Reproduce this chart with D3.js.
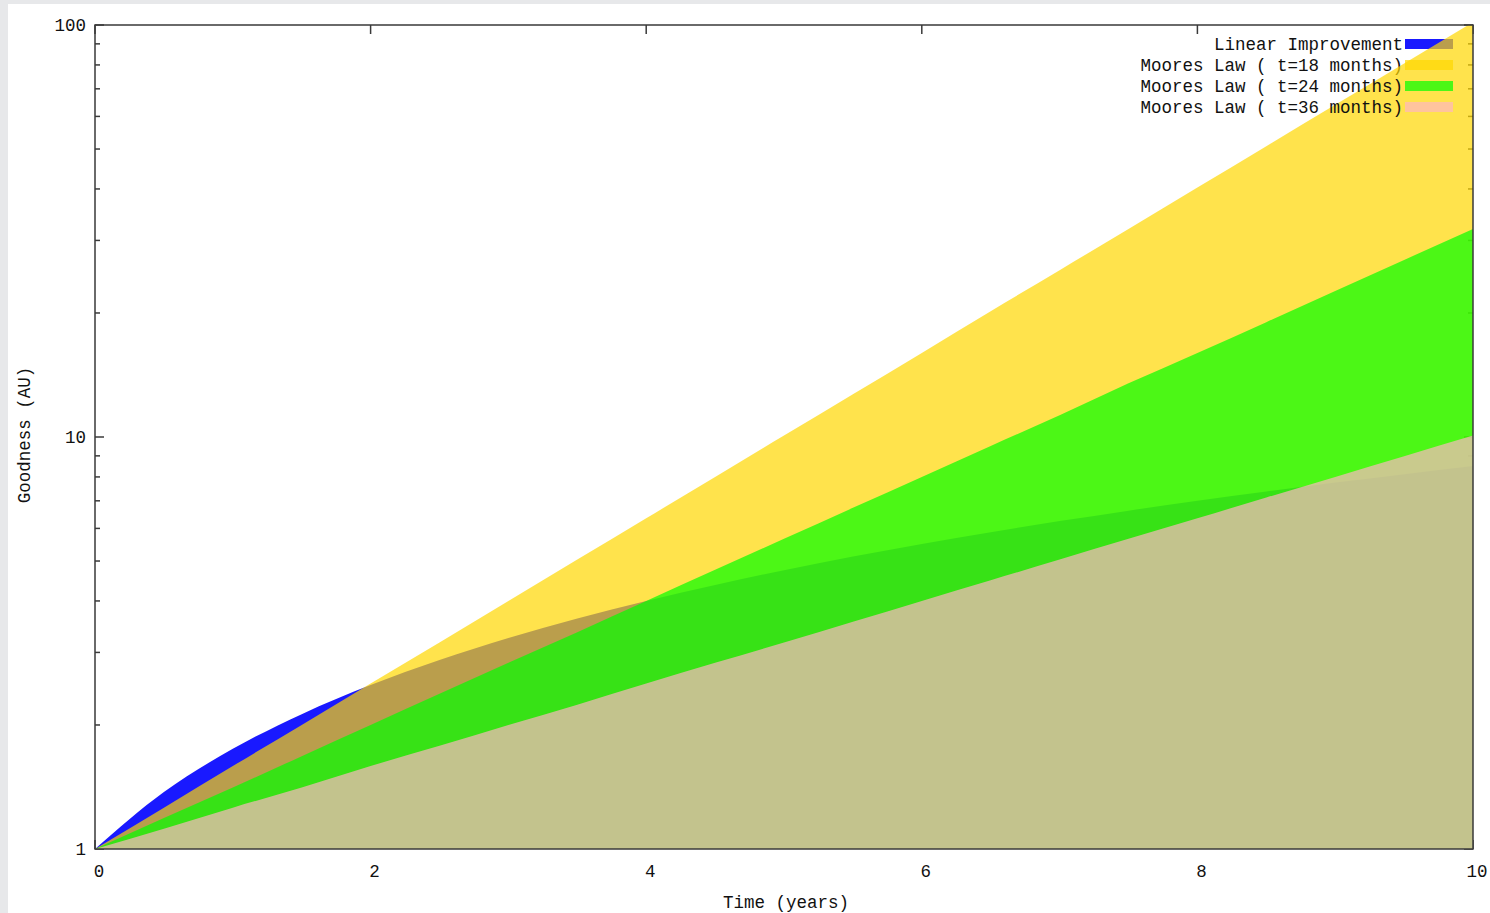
<!DOCTYPE html>
<html>
<head>
<meta charset="utf-8">
<script src="https://cdn.jsdelivr.net/npm/d3@7"></script>
<style>
  html, body { margin: 0; padding: 0; background: #e7e8ea; overflow: hidden; }
  svg { display: block; }
</style>
</head>
<body>
<div id="chart"></div>
<script>

// DATA

var years   = [0, 0.5, 1, 1.5, 2, 2.5, 3, 3.5, 4, 4.5, 5, 5.5, 6, 6.5, 7, 7.5, 8, 8.5, 9, 9.5, 10];
var linear  = [1, 1.375, 1.75, 2.125, 2.5, 2.875, 3.25, 3.625, 4, 4.375, 4.75, 5.125, 5.5, 5.875, 6.25, 6.625, 7, 7.375, 7.75, 8.125, 8.5];
var moore18 = [1, 1.26, 1.59, 2, 2.52, 3.17, 4, 5.04, 6.35, 8, 10.08, 12.7, 16, 20.2, 25.4, 32, 40.3, 50.8, 64, 80.6, 101.6];
var moore24 = [1, 1.19, 1.41, 1.68, 2, 2.38, 2.83, 3.36, 4, 4.76, 5.66, 6.73, 8, 9.51, 11.3, 13.5, 16, 19.0, 22.6, 26.9, 32];
var moore36 = [1, 1.12, 1.26, 1.41, 1.59, 1.78, 2, 2.24, 2.52, 2.83, 3.17, 3.56, 4, 4.49, 5.04, 5.66, 6.35, 7.13, 8, 8.98, 10.08];

var seriesNames = ['Linear Improvement', 'Moores Law ( t=18 months)', 'Moores Law ( t=24 months)', 'Moores Law ( t=36 months)'];
var seriesValues = [linear, moore18, moore24, moore36];

var xTicks = [0, 2, 4, 6, 8, 10];
var yTicks = [1, 10, 100];
var yMinor = [2, 3, 4, 5, 6, 7, 8, 9, 20, 30, 40, 50, 60, 70, 80, 90];

// STYLE

var colors  = ['#0000ff', '#ffd700', '#00ff00', '#ffb6c1'];
var opacity = [0.9, 0.7, 0.7, 0.7];
var font = '"Liberation Mono", "DejaVu Sans Mono", monospace';
var fontSize = 17.5;

var W = 1490, H = 913;
var plot = { left: 95, top: 25, right: 1473, bottom: 849 };

var svg = d3.select('#chart')
  .append('svg')
    .attr('width', W)
    .attr('height', H);

svg.append('rect')
  .attr('x', 8).attr('y', 4)
  .attr('width', W - 8).attr('height', H - 4)
  .attr('fill', '#ffffff');

var x = d3.scaleLinear().domain([0, 10]).range([plot.left, plot.right]);
var y = d3.scaleLog().domain([1, 100]).range([plot.bottom, plot.top]);

svg.append('clipPath').attr('id', 'plotclip')
  .append('rect')
    .attr('x', plot.left).attr('y', plot.top)
    .attr('width', plot.right - plot.left).attr('height', plot.bottom - plot.top);

// AXES (ticks inward, gnuplot style)

var axisColor = '#3a3a3a';
var ticks = svg.append('g').attr('stroke', axisColor).attr('stroke-width', 1.5);

yTicks.forEach(function(v) {
  ticks.append('line').attr('x1', plot.left).attr('x2', plot.left + 9).attr('y1', y(v)).attr('y2', y(v));
  ticks.append('line').attr('x1', plot.right).attr('x2', plot.right - 9).attr('y1', y(v)).attr('y2', y(v));
});
yMinor.forEach(function(v) {
  ticks.append('line').attr('x1', plot.left).attr('x2', plot.left + 5).attr('y1', y(v)).attr('y2', y(v));
  ticks.append('line').attr('x1', plot.right).attr('x2', plot.right - 5).attr('y1', y(v)).attr('y2', y(v));
});
xTicks.forEach(function(v) {
  ticks.append('line').attr('x1', x(v)).attr('x2', x(v)).attr('y1', plot.top).attr('y2', plot.top + 9);
  ticks.append('line').attr('x1', x(v)).attr('x2', x(v)).attr('y1', plot.bottom).attr('y2', plot.bottom - 9);
});

// SERIES + KEY (each key sample drawn before its fill, like gnuplot)

var area = d3.area()
  .x(function(d, i) { return x(years[i]); })
  .y0(y(1))
  .y1(function(d) { return y(d); })
  .curve(d3.curveMonotoneX);

var keyRight = 1403, keyY = 44, keyStep = 21;

seriesValues.forEach(function(vals, k) {
  var ky = keyY + k * keyStep;

  svg.append('text')
    .text(seriesNames[k])
    .attr('x', keyRight)
    .attr('y', ky)
    .attr('dy', '0.35em')
    .attr('text-anchor', 'end')
    .attr('font-family', font)
    .attr('font-size', fontSize)
    .attr('xml:space', 'preserve')
    .attr('fill', '#111');

  svg.append('rect')
    .attr('x', 1405).attr('y', ky - 5)
    .attr('width', 48).attr('height', 10)
    .attr('fill', colors[k])
    .attr('fill-opacity', opacity[k]);

  svg.append('path')
    .datum(vals)
    .attr('clip-path', 'url(#plotclip)')
    .attr('d', area)
    .attr('fill', colors[k])
    .attr('fill-opacity', opacity[k]);
});

// FRAME

svg.append('rect')
  .attr('x', plot.left).attr('y', plot.top)
  .attr('width', plot.right - plot.left).attr('height', plot.bottom - plot.top)
  .attr('fill', 'none')
  .attr('stroke', axisColor)
  .attr('stroke-width', 1.5);

// LABELS

svg.selectAll('text.ytick')
  .data(yTicks)
  .enter().append('text')
    .attr('class', 'ytick')
    .text(function(d) { return d; })
    .attr('x', 86)
    .attr('y', function(d) { return y(d); })
    .attr('dy', '0.35em')
    .attr('text-anchor', 'end')
    .attr('font-family', font)
    .attr('font-size', fontSize)
    .attr('fill', '#111');

svg.selectAll('text.xtick')
  .data(xTicks)
  .enter().append('text')
    .attr('class', 'xtick')
    .text(function(d) { return d; })
    .attr('x', function(d) { return x(d) + 4; })
    .attr('y', 871)
    .attr('dy', '0.35em')
    .attr('text-anchor', 'middle')
    .attr('font-family', font)
    .attr('font-size', fontSize)
    .attr('fill', '#111');

svg.append('text')
  .text('Time (years)')
  .attr('x', 786)
  .attr('y', 902)
  .attr('dy', '0.35em')
  .attr('text-anchor', 'middle')
  .attr('font-family', font)
  .attr('font-size', fontSize)
  .attr('fill', '#111');

svg.append('text')
  .text('Goodness (AU)')
  .attr('transform', 'translate(24,435) rotate(-90)')
  .attr('dy', '0.35em')
  .attr('text-anchor', 'middle')
  .attr('font-family', font)
  .attr('font-size', fontSize)
  .attr('fill', '#111');

</script>
</body>
</html>
